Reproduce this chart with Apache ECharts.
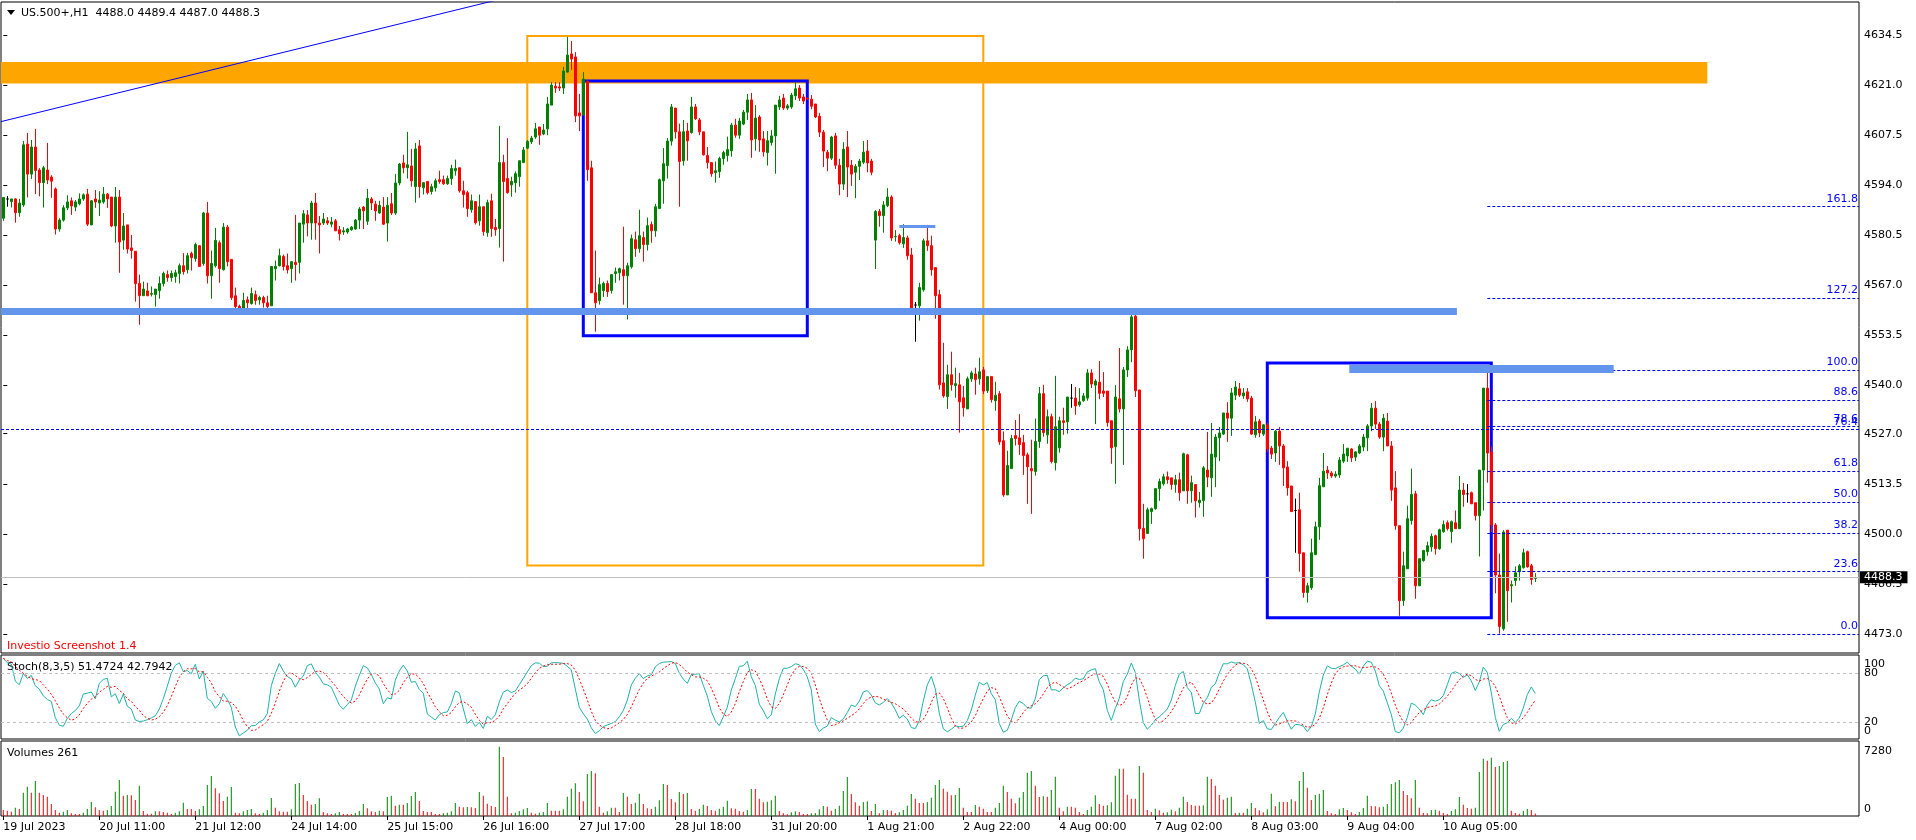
<!DOCTYPE html>
<html><head><meta charset="utf-8">
<script src="https://cdn.jsdelivr.net/npm/echarts@6/dist/echarts.min.js"></script>
<style>html,body{margin:0;padding:0;background:#fff;overflow:hidden}#c{width:1916px;height:840px}</style>
</head><body><div id="c"></div>
<script>
// ---------- data ----------
const timeLabels = ["19 Jul 2023","20 Jul 11:00","21 Jul 12:00","24 Jul 14:00","25 Jul 15:00","26 Jul 16:00","27 Jul 17:00","28 Jul 18:00","31 Jul 20:00","1 Aug 21:00","2 Aug 22:00","4 Aug 00:00","7 Aug 02:00","8 Aug 03:00","9 Aug 04:00","10 Aug 05:00"];
const barsPerLabel = 24;

const open = [
4585.1,4590.3,4589.6,4590.3,4586.6,4588.7,4605.1,4597.0,4604.3,4598.1,
4594.7,4598.1,4596.2,4593.0,4582.2,4584.6,4587.9,4589.8,4588.1,4589.0,
4590.3,4591.6,4583.3,4590.3,4589.2,4589.5,4591.6,4590.8,4583.0,4590.8,
4579.2,4583.3,4577.1,4576.2,4567.5,4564.2,4565.5,4564.6,4564.5,4565.6,
4567.5,4569.9,4569.1,4569.4,4570.2,4572.3,4571.2,4575.6,4574.2,4577.7,
4572.9,4586.5,4569.6,4572.3,4578.5,4571.2,4582.7,4574.0,4564.2,4561.3,
4560.4,4563.1,4562.1,4564.5,4563.1,4563.7,4562.3,4561.5,4571.5,4572.3,
4574.8,4572.3,4571.5,4573.2,4573.2,4583.5,4586.0,4583.8,4589.2,4583.8,
4583.8,4584.4,4583.5,4584.4,4582.0,4581.4,4581.4,4582.0,4582.2,4584.6,
4588.1,4584.3,4590.3,4588.9,4586.5,4588.1,4583.8,4589.0,4586.5,4594.6,
4600.0,4598.7,4599.2,4593.6,4604.6,4593.3,4595.0,4592.3,4593.3,4595.5,
4595.5,4594.4,4595.8,4597.9,4598.7,4592.5,4592.0,4587.4,4589.6,4584.4,
4588.2,4581.2,4589.8,4582.6,4582.3,4600.1,4595.8,4594.1,4594.7,4596.3,
4600.1,4604.0,4605.7,4607.0,4609.7,4607.8,4609.2,4615.6,4620.7,4620.5,
4620.2,4624.5,4629.4,4628.6,4613.5,4612.9,4622.1,4598.7,4565.0,4562.9,
4565.6,4567.5,4565.6,4570.2,4570.4,4571.2,4569.6,4572.0,4579.3,4576.9,
4579.9,4578.0,4583.4,4581.7,4587.7,4595.2,4599.3,4605.9,4614.8,4608.4,
4600.6,4608.6,4608.2,4615.1,4611.6,4608.4,4602.0,4600.1,4597.4,4597.7,
4601.2,4602.0,4603.3,4610.2,4607.5,4610.5,4613.7,4617.0,4606.5,4612.4,
4606.5,4602.8,4605.5,4607.3,4615.1,4617.5,4614.8,4615.1,4618.1,4620.2,
4617.8,4617.5,4617.2,4615.9,4612.6,4608.3,4602.9,4601.3,4607.3,4599.4,
4594.3,4604.3,4599.4,4597.5,4599.1,4600.2,4603.2,4600.5,4579.2,4586.9,
4585.8,4588.5,4590.8,4580.1,4580.4,4578.2,4579.8,4575.2,4561.7,4561.5,
4565.8,4579.0,4577.7,4571.8,4564.5,4540.7,4537.0,4542.9,4540.0,4540.2,
4536.7,4533.7,4541.8,4543.1,4541.8,4544.2,4538.6,4542.4,4535.9,4537.8,
4525.1,4510.5,4517.6,4526.5,4525.9,4524.6,4521.3,4517.6,4516.8,4524.9,
4537.8,4526.7,4531.6,4519.2,4523.2,4530.5,4530.2,4536.6,4536.6,4534.8,
4535.9,4536.6,4543.4,4540.1,4540.9,4538.5,4538.5,4530.5,4523.5,4536.4,
4533.7,4544.2,4549.6,4558.7,4538.8,4501.5,4500.1,4506.0,4506.8,4512.2,
4513.5,4515.4,4515.1,4513.3,4514.6,4511.6,4521.3,4511.6,4513.3,4508.4,
4509.0,4517.2,4515.1,4520.7,4525.9,4526.9,4532.6,4531.2,4537.4,4539.1,
4537.2,4538.3,4536.6,4526.7,4530.4,4526.9,4529.4,4523.1,4521.8,4527.7,
4523.7,4518.0,4512.9,4506.3,4506.5,4494.9,4484.2,4485.5,4494.4,4501.9,
4512.7,4517.2,4516.4,4515.6,4515.9,4519.6,4521.0,4522.9,4520.7,4521.8,
4523.4,4525.9,4529.1,4533.9,4529.6,4526.1,4530.4,4523.7,4512.4,4502.2,
4482.0,4490.6,4503.6,4510.8,4486.0,4492.8,4495.2,4496.5,4499.5,4496.0,
4500.6,4503.0,4500.6,4503.0,4501.4,4511.8,4510.8,4511.1,4508.4,4504.9,
4517.2,4539.3,4522.0,4502.4,4488.9,4474.4,4501.0,4486.0,4487.4,4489.8,
4490.9,4495.2,4491.4,4488.0];
const high = [
4590.8,4591.1,4590.3,4590.5,4590.3,4605.9,4608.1,4606.2,4609.2,4598.6,
4599.2,4605.4,4596.7,4593.4,4585.1,4588.6,4591.3,4590.7,4590.0,4591.8,
4591.8,4593.0,4590.0,4592.7,4592.4,4593.5,4591.9,4590.8,4593.5,4592.7,
4586.5,4583.3,4580.6,4576.2,4569.9,4568.0,4567.7,4566.7,4566.0,4569.4,
4570.7,4571.0,4571.0,4571.2,4572.9,4575.7,4575.8,4576.1,4578.5,4577.7,
4586.8,4589.5,4576.4,4582.5,4579.1,4583.8,4583.3,4574.0,4566.4,4561.8,
4565.0,4564.0,4566.4,4565.6,4564.2,4564.2,4564.2,4572.1,4573.7,4576.9,
4575.3,4575.6,4573.4,4586.0,4583.8,4587.3,4587.3,4589.8,4591.9,4585.7,
4586.5,4585.4,4585.4,4584.9,4583.0,4582.7,4582.5,4583.0,4584.9,4588.1,
4588.4,4593.0,4590.8,4589.8,4589.8,4590.8,4590.8,4591.9,4597.0,4600.0,
4602.2,4608.4,4603.8,4605.4,4606.2,4594.7,4595.0,4594.4,4595.8,4597.9,
4596.6,4596.6,4599.5,4600.9,4598.7,4595.2,4592.5,4591.5,4589.6,4591.5,
4588.2,4590.1,4591.7,4584.9,4610.0,4602.2,4606.7,4596.3,4597.7,4600.6,
4604.3,4606.2,4607.3,4610.8,4609.7,4610.5,4617.8,4621.8,4621.8,4621.8,
4625.9,4634.0,4632.9,4629.9,4618.6,4624.5,4622.1,4600.6,4576.4,4569.1,
4568.0,4568.3,4569.9,4571.8,4571.8,4582.8,4573.1,4580.7,4581.5,4587.4,
4581.5,4585.3,4584.2,4589.0,4595.8,4604.0,4606.7,4615.9,4614.8,4610.6,
4611.6,4610.8,4617.8,4615.9,4612.1,4608.4,4604.3,4600.1,4600.4,4601.7,
4603.3,4607.1,4610.8,4611.9,4612.1,4614.3,4618.6,4618.9,4615.6,4612.9,
4608.6,4608.6,4608.9,4615.6,4618.1,4618.6,4615.9,4618.9,4621.8,4621.0,
4618.6,4617.6,4618.3,4615.9,4613.5,4608.9,4603.5,4607.3,4608.1,4601.1,
4605.6,4608.6,4600.8,4599.7,4601.1,4605.9,4606.2,4601.1,4587.3,4587.6,
4589.7,4593.2,4591.3,4581.9,4580.9,4583.5,4580.4,4577.1,4562.5,4567.7,
4579.6,4583.3,4580.4,4571.8,4565.8,4551.5,4545.6,4549.1,4544.8,4543.4,
4539.9,4542.4,4544.0,4544.8,4547.5,4545.0,4542.4,4542.4,4541.0,4538.5,
4527.6,4522.4,4526.7,4530.7,4532.3,4526.7,4521.9,4525.4,4531.1,4539.6,
4540.2,4533.5,4532.4,4542.6,4531.6,4534.0,4536.9,4540.4,4539.6,4539.3,
4538.0,4544.4,4544.4,4541.7,4546.6,4543.6,4538.5,4530.5,4540.1,4550.1,
4545.0,4550.6,4560.4,4559.3,4538.8,4508.1,4507.1,4507.1,4512.2,4514.9,
4516.2,4516.8,4515.1,4515.9,4516.5,4521.9,4521.6,4515.7,4513.3,4511.3,
4518.3,4527.5,4529.9,4526.9,4528.8,4532.6,4535.5,4539.3,4541.2,4540.7,
4539.3,4539.3,4537.2,4531.8,4531.0,4529.6,4529.9,4523.7,4528.0,4528.8,
4524.2,4519.6,4512.9,4509.5,4511.1,4494.9,4486.8,4498.7,4503.3,4515.1,
4521.8,4518.3,4516.9,4516.9,4520.7,4524.2,4523.1,4523.1,4522.3,4524.2,
4526.9,4529.6,4535.3,4535.8,4530.2,4532.3,4532.6,4525.0,4516.9,4502.2,
4495.2,4507.6,4517.6,4511.6,4493.3,4495.7,4497.9,4500.1,4499.8,4501.4,
4503.6,4503.6,4503.6,4506.3,4515.6,4513.7,4513.4,4511.4,4508.4,4517.2,
4539.3,4544.2,4523.5,4502.9,4494.7,4501.0,4501.0,4487.4,4491.2,4491.9,
4496.0,4495.5,4491.9,4489.4];
const low = [
4584.4,4588.2,4588.0,4583.9,4585.5,4588.2,4590.7,4595.7,4591.6,4591.0,
4588.0,4594.3,4590.6,4580.7,4581.5,4584.2,4587.3,4586.0,4587.0,4588.6,
4589.8,4583.0,4583.3,4587.9,4585.7,4589.0,4587.9,4582.7,4578.5,4570.4,
4576.6,4575.6,4574.2,4562.6,4556.4,4564.2,4564.2,4564.0,4561.3,4563.4,
4566.7,4568.0,4568.0,4567.7,4567.5,4569.9,4570.2,4571.0,4573.4,4572.1,
4572.3,4567.5,4563.4,4571.8,4567.7,4571.0,4572.1,4563.1,4560.7,4559.6,
4559.9,4559.6,4561.8,4561.8,4561.8,4561.0,4559.6,4561.5,4568.3,4572.1,
4571.0,4570.2,4567.7,4568.3,4570.2,4578.5,4580.2,4579.3,4579.3,4575.6,
4583.3,4583.3,4582.7,4581.7,4579.1,4580.6,4580.9,4581.7,4582.0,4582.2,
4582.2,4583.3,4587.3,4584.4,4586.3,4583.3,4578.8,4586.0,4586.0,4594.0,
4597.2,4595.8,4593.6,4589.3,4590.6,4591.5,4591.5,4591.5,4592.3,4594.4,
4594.1,4594.1,4594.1,4596.6,4592.0,4588.0,4585.5,4586.6,4583.4,4583.1,
4580.4,4580.1,4580.1,4580.4,4577.2,4573.4,4591.7,4590.9,4592.0,4593.6,
4600.1,4603.7,4605.1,4606.5,4604.9,4607.5,4607.5,4615.6,4618.9,4619.4,
4618.6,4624.3,4625.1,4611.0,4608.6,4612.9,4595.2,4565.0,4554.5,4561.8,
4563.9,4563.9,4564.8,4567.7,4568.3,4561.8,4557.8,4571.5,4574.7,4575.8,
4573.4,4576.4,4578.5,4580.1,4587.7,4589.0,4595.8,4604.7,4606.6,4588.2,
4599.3,4600.6,4607.9,4611.6,4607.5,4602.0,4598.5,4596.3,4594.7,4596.0,
4599.5,4600.4,4601.7,4606.8,4606.5,4610.2,4611.6,4601.4,4603.3,4603.0,
4601.7,4599.3,4604.7,4597.1,4614.3,4614.3,4614.3,4614.6,4617.0,4616.7,
4615.9,4617.0,4614.5,4612.1,4607.0,4598.9,4597.8,4600.8,4598.4,4591.3,
4592.7,4590.8,4593.8,4590.5,4595.4,4599.7,4597.5,4596.7,4571.4,4582.8,
4581.2,4588.1,4579.0,4578.8,4578.0,4577.1,4573.9,4560.8,4551.8,4557.5,
4565.3,4576.3,4569.6,4558.0,4538.9,4536.7,4533.7,4538.6,4536.7,4527.3,
4531.6,4533.7,4541.0,4537.5,4540.2,4537.7,4538.0,4535.4,4533.2,4524.0,
4510.0,4510.5,4517.6,4523.8,4521.3,4515.9,4508.1,4505.4,4515.7,4523.2,
4526.2,4524.3,4519.0,4517.1,4521.9,4526.7,4527.0,4534.0,4532.1,4534.3,
4535.6,4535.9,4539.3,4529.6,4536.3,4536.9,4528.9,4518.9,4513.5,4532.7,
4518.6,4542.3,4546.3,4536.9,4498.2,4493.3,4500.1,4502.7,4506.5,4508.9,
4513.0,4513.5,4511.9,4511.1,4508.9,4511.6,4508.1,4508.4,4504.4,4507.1,
4504.6,4512.6,4510.0,4512.6,4519.6,4526.7,4524.8,4526.4,4536.1,4536.9,
4536.4,4535.6,4526.7,4525.9,4526.1,4526.4,4522.0,4520.2,4519.4,4518.6,
4512.9,4510.3,4506.0,4494.9,4489.8,4482.8,4481.5,4484.9,4494.4,4498.4,
4512.7,4514.8,4515.1,4515.1,4515.1,4519.1,4519.4,4519.4,4519.6,4521.5,
4522.3,4522.3,4527.7,4528.3,4525.6,4522.3,4523.7,4508.9,4501.1,4477.9,
4480.6,4490.6,4502.5,4482.5,4486.0,4492.5,4494.1,4495.2,4494.4,4495.7,
4500.3,4500.9,4497.6,4501.4,4501.4,4507.3,4508.4,4508.1,4503.6,4493.9,
4506.3,4513.8,4500.5,4484.0,4473.1,4473.9,4476.3,4481.5,4486.0,4487.4,
4490.6,4490.9,4486.3,4487.0];
const close = [
4590.7,4590.3,4590.3,4586.6,4589.2,4604.9,4597.0,4604.3,4598.0,4594.7,
4598.7,4595.4,4595.1,4582.2,4584.6,4587.9,4589.5,4588.4,4589.5,4590.3,
4591.4,4583.5,4589.8,4589.5,4590.0,4591.6,4590.3,4583.0,4590.8,4578.7,
4583.0,4576.8,4576.4,4567.5,4564.2,4566.0,4564.2,4564.8,4566.0,4567.5,
4570.2,4569.1,4570.2,4570.4,4572.3,4570.7,4575.0,4574.5,4578.0,4572.1,
4586.5,4569.6,4572.9,4579.1,4571.5,4582.7,4573.4,4563.7,4561.3,4560.7,
4562.9,4562.3,4564.8,4562.9,4563.7,4562.3,4561.3,4572.1,4572.1,4575.0,
4572.1,4571.2,4573.4,4572.6,4583.8,4586.3,4583.8,4589.2,4583.8,4583.3,
4584.9,4583.8,4584.1,4581.7,4580.9,4581.7,4582.2,4582.7,4584.6,4587.6,
4587.1,4590.5,4589.2,4587.1,4588.6,4583.5,4588.6,4586.5,4594.6,4599.7,
4598.7,4599.5,4595.2,4603.8,4593.6,4594.7,4592.0,4593.6,4595.2,4595.0,
4594.4,4595.8,4598.5,4598.5,4592.5,4591.5,4587.7,4589.8,4583.9,4588.2,
4581.5,4589.3,4582.3,4582.0,4600.1,4595.0,4592.0,4595.0,4597.1,4600.6,
4603.5,4605.8,4606.7,4609.2,4607.5,4608.9,4615.9,4621.0,4620.2,4620.2,
4624.8,4629.1,4628.0,4612.7,4612.7,4622.6,4598.2,4565.0,4562.3,4567.2,
4567.5,4565.3,4569.9,4570.7,4571.5,4569.6,4572.3,4579.6,4576.9,4580.4,
4578.0,4583.1,4581.7,4588.2,4595.5,4599.8,4605.9,4615.1,4608.4,4600.4,
4608.4,4606.0,4615.1,4611.9,4608.4,4602.2,4600.1,4597.1,4597.9,4601.2,
4602.8,4603.6,4610.2,4607.5,4611.3,4613.7,4617.0,4606.2,4612.1,4606.2,
4603.0,4606.0,4607.3,4615.6,4617.0,4614.8,4615.4,4618.3,4620.0,4617.5,
4616.7,4617.3,4615.3,4612.4,4608.3,4603.2,4601.3,4607.0,4599.4,4594.3,
4603.7,4598.9,4597.0,4599.1,4600.5,4602.9,4600.0,4597.5,4586.9,4585.8,
4588.7,4590.8,4579.8,4580.2,4578.5,4579.9,4575.0,4560.8,4561.7,4566.4,
4579.0,4577.7,4571.2,4564.2,4540.2,4537.2,4542.9,4540.2,4540.5,4535.6,
4534.0,4541.8,4543.4,4541.6,4543.7,4538.5,4542.4,4536.2,4537.4,4524.8,
4510.5,4518.4,4525.7,4525.7,4524.1,4521.1,4518.1,4517.0,4524.9,4537.8,
4527.3,4531.6,4519.5,4528.9,4530.5,4530.0,4536.9,4536.6,4534.5,4535.6,
4537.2,4543.4,4540.4,4541.2,4537.9,4537.9,4530.0,4523.2,4536.9,4533.7,
4544.2,4549.6,4558.5,4538.6,4501.4,4498.7,4506.5,4506.8,4512.2,4514.1,
4515.4,4514.6,4513.3,4514.6,4511.1,4521.6,4511.6,4513.8,4508.9,4509.1,
4517.8,4515.3,4521.5,4526.1,4527.2,4532.6,4531.2,4538.0,4539.6,4537.4,
4538.0,4536.4,4526.9,4530.2,4527.2,4529.4,4522.9,4521.5,4527.7,4523.7,
4517.8,4512.4,4506.0,4506.3,4494.7,4484.2,4486.0,4494.9,4501.9,4513.0,
4516.9,4516.4,4515.6,4516.1,4519.9,4521.5,4523.1,4520.5,4522.1,4523.7,
4526.1,4529.1,4533.9,4529.6,4526.1,4531.2,4523.7,4511.8,4502.2,4482.0,
4491.4,4504.1,4510.6,4486.0,4493.3,4495.5,4496.8,4499.3,4496.0,4501.1,
4502.5,4501.4,4503.3,4501.4,4511.8,4510.6,4510.8,4508.1,4504.9,4517.2,
4539.3,4521.8,4502.4,4488.9,4475.0,4500.5,4484.7,4486.3,4489.5,4491.4,
4494.9,4491.1,4487.7,4488.3];
const volume = [
630,560,455,875,735,2450,3080,2450,3675,2450,
2205,2030,1260,630,350,455,630,280,210,210,
350,735,1470,910,630,560,630,1050,2555,3780,
2135,2205,2170,1680,3185,525,245,245,490,490,
420,350,210,350,490,1400,735,735,525,700,
1050,3255,4200,2905,2380,1575,2030,3045,350,280,
490,630,735,280,210,350,630,1890,875,490,
455,455,700,3360,3465,2205,1575,1190,1260,1855,
420,280,210,280,420,210,210,210,315,525,
1260,805,490,420,560,490,1995,2135,1085,1190,
1190,1365,2100,2520,1575,525,420,420,210,210,
280,350,490,1365,980,910,945,910,840,2520,
2135,1295,1050,945,7280,6195,2030,280,350,525,
700,840,350,245,350,420,1365,560,560,560,
700,2030,2870,3430,2520,1540,4410,4725,4480,980,
350,490,875,875,420,2415,2030,1260,1400,2345,
1260,805,735,980,1645,3360,3255,1785,1435,2520,
2310,2415,735,560,735,1190,1050,630,560,770,
980,1610,805,770,525,455,630,2835,2835,1820,
1435,1505,1645,2135,525,280,175,385,490,420,
210,210,280,315,700,1050,980,560,735,1085,
2625,4095,2310,1435,1085,1470,1540,525,1260,280,
630,630,560,315,385,630,1085,2310,1820,1365,
1365,1470,1925,3255,3780,2870,2555,2170,2205,2940,
875,420,420,1155,980,770,420,420,875,1365,
3185,2520,1820,1330,1925,2520,4550,4725,3185,1995,
2065,2030,2730,4130,875,490,980,980,875,420,
210,630,980,2170,1260,1085,1120,1435,4235,4970,
4970,2240,1820,1820,5250,4550,630,420,770,595,
350,385,665,490,875,2030,1470,1155,1085,1085,
1120,4130,3885,3185,2205,1715,1925,2030,315,350,
350,770,1365,840,595,385,700,2345,1015,
1470,1470,1470,1750,1540,3675,4620,2975,1680,2205,
2345,2730,525,280,210,700,840,630,385,210,
420,840,2135,1050,1015,910,980,1260,3360,3535,
3780,2625,2205,1855,3780,875,315,280,630,665,
560,315,210,525,700,1995,1190,840,770,875,
4620,6020,5810,6125,5145,5250,5670,5775,560,315,
245,525,735,630,261];

const priceTicks = [4473.0,4486.5,4500.0,4513.5,4527.0,4540.0,4553.5,4567.0,4580.5,4594.0,4607.5,4621.0,4634.5];
const stochInnerTicks = [20,80];
const stochEdgeTicks = [0,100];
const stochLevels = [20,80];
const volumeTicks = [0,7280];

// Fibonacci retracement
const fibLevels = [0,23.6,38.2,50,61.8,78.6,88.6,100,127.2,161.8];
const fibLow = 4473.0, fibHigh = 4544.2, fibStartBar = 371;

// drawn objects (bar index, price)
const orangeBand = {x1:-1, x2:426, p1:4621.4, p2:4627.2};
const orangeBox  = {x1:131, x2:245, p1:4491.5, p2:4634.2};
const blueBox1   = {x1:145, x2:201, p1:4553.4, p2:4622.1};
const blueBox2   = {x1:316, x2:372, p1:4477.4, p2:4546.1};
const supportLine = {x1:-1, x2:363.4, p:4559.9};
const shortLine   = {x1:224, x2:233, p:4582.9};
const topLine     = {x1:336.5, x2:402.6, p:4544.5};
const dottedLine  = {p:4528.2, label:'76.4'};
const trendLine = [[-0.575, 4611.15],[200, 4664.2]];
const bidPrice = 4488.3;

// ---------- layout ----------
const FONT = "'DejaVu Sans', sans-serif";
const XMIN = -0.575, XMAX = 463.925;
const N = close.length;
const GREEN = '#008000', RED = '#FF0000';

// Stochastic (8,3,5) computed from the candles
function stochastic(kP, slow, dP) {
  const K = [], D = [];
  const ll = [], hh = [];
  for (let i = 0; i < N; i++) {
    let lo = Infinity, hi = -Infinity;
    for (let j = Math.max(0, i - kP + 1); j <= i; j++) { lo = Math.min(lo, low[j]); hi = Math.max(hi, high[j]); }
    ll.push(lo); hh.push(hi);
  }
  for (let i = 0; i < N; i++) {
    let num = 0, den = 0;
    for (let j = Math.max(0, i - slow + 1); j <= i; j++) { num += close[j] - ll[j]; den += hh[j] - ll[j]; }
    K.push(den > 0 ? 100 * num / den : 100);
  }
  for (let i = 0; i < N; i++) {
    let s = 0, c = 0;
    for (let j = Math.max(0, i - dP + 1); j <= i; j++) { s += K[j]; c++; }
    D.push(s / c);
  }
  return {K, D};
}
const st = stochastic(8, 3, 5);

const candleData = [];
for (let i = 0; i < N; i++) {
  const item = {value: [i, open[i], close[i], low[i], high[i]]};
  if (open[i] === close[i]) item.itemStyle = {color:'#000', color0:'#000', borderColor:'#000', borderColor0:'#000'};
  candleData.push(item);
}
const volData = volume.map((v, i) => ({value: [i, v], itemStyle: {color: (i > 0 && v > volume[i-1]) ? GREEN : RED}}));

const fibRange = fibHigh - fibLow;
const markLines = [];
function seg(x1, x2, p, lineStyle, label) {
  markLines.push([{coord:[x1, p], lineStyle, label: label || {show:false}}, {coord:[x2, p]}]);
}
const fibLabel = (t, c) => ({show:true, position:'insideEndTop', formatter:t, color:c || '#0000FF', fontSize:11, fontFamily:FONT, distance:[1, 2]});
seg(XMIN, XMAX, bidPrice, {color:'#C0C0C0', width:1, type:'solid'},
  {show:true, position:'end', formatter: bidPrice.toFixed(1), color:'#fff', backgroundColor:'#000', padding:[1,5,0,4], fontSize:11, fontFamily:FONT, distance:1});
seg(XMIN, XMAX, dottedLine.p, {color:'#0000FF', width:1, type:[3,2]}, fibLabel(dottedLine.label));
fibLevels.forEach(l => {
  const p = fibLow + fibRange * l / 100;
  seg(fibStartBar, XMAX, p, {color:'#0000FF', width:1, type:[3,2]}, fibLabel(l.toFixed(1)));
});
seg(Math.max(XMIN, supportLine.x1), supportLine.x2, supportLine.p, {color:'#6495ED', width:7, type:'solid', cap:'butt'});
seg(shortLine.x1, shortLine.x2, shortLine.p, {color:'#6495ED', width:3, type:'solid', cap:'butt'});
seg(topLine.x1, topLine.x2, topLine.p, {color:'#6495ED', width:8, type:'solid', cap:'butt'});

function box(b, style) {
  return [{xAxis: Math.max(XMIN, b.x1), yAxis: b.p2, itemStyle: style}, {xAxis: b.x2, yAxis: b.p1}];
}
const markAreas = [
  box(orangeBand, {color:'#FFA500', borderWidth:0}),
  box(orangeBox, {color:'rgba(0,0,0,0)', borderColor:'#FFA500', borderWidth:2}),
  box(blueBox1, {color:'rgba(0,0,0,0)', borderColor:'#0000FF', borderWidth:3}),
  box(blueBox2, {color:'rgba(0,0,0,0)', borderColor:'#0000FF', borderWidth:3})
];

const gridBase = {left:1, width:1858, show:true, borderColor:'#000', borderWidth:1, backgroundColor:'rgba(0,0,0,0)', containLabel:false};
const axisText = {color:'#000', fontSize:11, fontFamily:FONT, hideOverlap:false};
function labelAxis(grid, min, max, ticks, fmt, showTicks) {
  return {type:'value', gridIndex:grid, position:'right', min, max, splitLine:{show:false}, axisLine:{show:false},
    axisTick:{show:!!showTicks, length:4, lineStyle:{color:'#000'}, customValues:ticks},
    axisLabel:{customValues:ticks, formatter:fmt, margin:5, ...axisText}};
}

const chart = echarts.init(document.getElementById('c'), null, {renderer:'canvas'});
chart.setOption({
  animation:false,
  backgroundColor:'#fff',
  grid:[
    Object.assign({top:2, height:651}, gridBase),
    Object.assign({top:655, height:84}, gridBase),
    Object.assign({top:741, height:75}, gridBase)
  ],
  xAxis:[0,1,2].map(g => ({
    type:'value', gridIndex:g, min:XMIN, max:XMAX, show: g === 2,
    axisLine:{show:false}, splitLine:{show:false},
    axisTick:{show: g === 2, length:4, lineStyle:{color:'#000'}, customValues: timeLabels.map((t, i) => i * barsPerLabel)},
    axisLabel:{show: g === 2, customValues: timeLabels.map((t, i) => i * barsPerLabel), formatter: v => timeLabels[Math.round(v / barsPerLabel)] || '', align:'left', margin:6, ...axisText}
  })),
  yAxis:[
    labelAxis(0, 4467.88, 4643.4, priceTicks, v => v.toFixed(1), true),
    labelAxis(1, -1, 102.6, stochInnerTicks, v => String(v)),
    // second label scale for the stochastic panel: MT4 prints 100 and 0 just inside the panel edges
    labelAxis(1, -11.9, 113.4, stochEdgeTicks, v => String(v)),
    labelAxis(2, 0, 7880, [], v => ''),
    // volume labels: 7280 printed just under the top, 0 just above the bottom
    labelAxis(2, -874, 8491, volumeTicks, v => String(v))
  ],
  series:[
    {type:'line', xAxisIndex:0, yAxisIndex:0, data:[], z:1, silent:true,
     markArea:{silent:true, data:markAreas},
     markLine:{silent:true, symbol:['none','none'], animation:false, data:markLines}},
    {type:'candlestick', xAxisIndex:0, yAxisIndex:0, z:3, barWidth:2, data:candleData,
     itemStyle:{color:GREEN, color0:RED, borderColor:GREEN, borderColor0:RED, borderWidth:1}},
    {type:'line', xAxisIndex:0, yAxisIndex:0, z:4, data:trendLine, symbol:'none', clip:true, silent:true,
     lineStyle:{color:'#0000FF', width:1}},
    {type:'line', xAxisIndex:1, yAxisIndex:1, z:3, data:st.K.map((v, i) => [i, v]), symbol:'none', silent:true,
     lineStyle:{color:'#20B2AA', width:1},
     markLine:{silent:true, symbol:['none','none'], label:{show:false}, lineStyle:{color:'#C0C0C0', type:[3,3], width:1},
       data: stochLevels.map(l => [{coord:[XMIN, l]}, {coord:[XMAX, l]}])}},
    {type:'line', xAxisIndex:1, yAxisIndex:1, z:4, data:st.D.map((v, i) => [i, v]), symbol:'none', silent:true,
     lineStyle:{color:'#FF0000', width:1, type:[2,2]}},
    {type:'bar', xAxisIndex:2, yAxisIndex:3, barWidth:1, data:volData, silent:true}
  ],
  graphic:[
    {type:'polygon', shape:{points:[[7,10],[15,10],[11,15]]}, style:{fill:'#000'}},
    {type:'text', x:21, y:13, style:{text:'US.500+,H1  4488.0 4489.4 4487.0 4488.3', fill:'#000', font:'11px ' + FONT, verticalAlign:'middle'}},
    {type:'text', x:7, y:646, style:{text:'Investio Screenshot 1.4', fill:'#FF0000', font:'11px ' + FONT, verticalAlign:'middle'}},
    {type:'text', x:7, y:667, style:{text:'Stoch(8,3,5) 51.4724 42.7942', fill:'#000', font:'11px ' + FONT, verticalAlign:'middle'}},
    {type:'text', x:7, y:753, style:{text:'Volumes 261', fill:'#000', font:'11px ' + FONT, verticalAlign:'middle'}}
  ]
});
</script>
</body></html>
